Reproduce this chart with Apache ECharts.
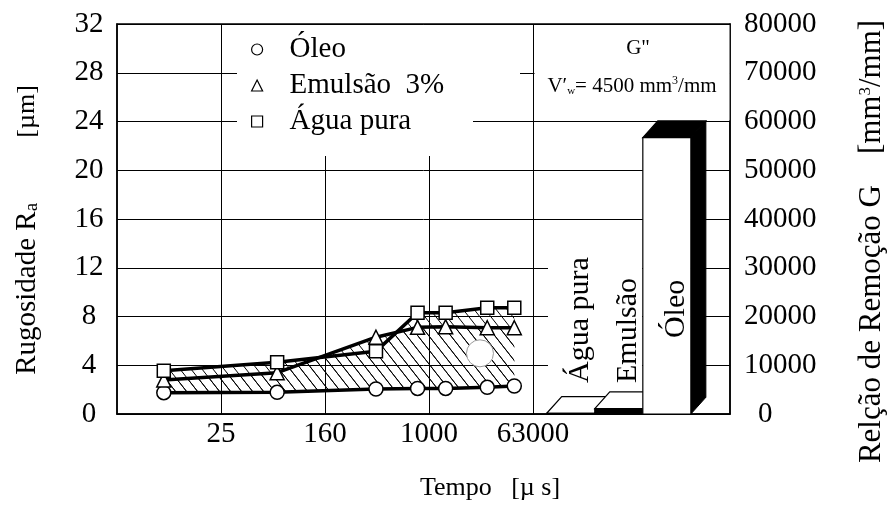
<!DOCTYPE html>
<html>
<head>
<meta charset="utf-8">
<script src="https://cdn.jsdelivr.net/npm/echarts@6/dist/echarts.min.js"></script>
<style>
html, body { margin: 0; padding: 0; background: #fff; }
#chart { width: 887px; height: 510px; }
</style>
</head>
<body>
<div id="chart"></div>
<script>
// eixo do tempo: cada divisão corresponde a uma marca (25, 160, 1000, 63000)
var tempoLabels = ['', '25', '160', '1000', '63000'];
var tempoPos = [0.45, 1.54, 2.49, 2.89, 3.16, 3.56, 3.82];

// rugosidade Ra [µm]
var oleo = [1.75, 1.78, 2.05, 2.1, 2.1, 2.19, 2.3];
var emulsao = [2.79, 3.39, 6.3, 7.11, 7.16, 7.08, 7.08];
var agua = [3.55, 4.24, 5.14, 8.31, 8.31, 8.72, 8.72];

// relação de remoção G [mm3/mm]
var barNames = ['Água pura', 'Emulsão', 'Óleo'];
var barG = [150, 1100, 56700];

// marca circular no meio da faixa hachurada
var marcaCirculo = [3.49, 4.98];

var serif = 'Liberation Serif';
var barStart = 4.132, barW = 0.462;

var chart = echarts.init(document.getElementById('chart'));

// hachura "\\\" da faixa entre as curvas
var pat = document.createElement('canvas');
pat.width = 11; pat.height = 14;
var pg = pat.getContext('2d');
pg.strokeStyle = '#000';
pg.lineWidth = 1;
pg.beginPath();
[-11, 0, 11].forEach(function (s) { pg.moveTo(s, 0); pg.lineTo(s + 11, 14); });
pg.stroke();
var hatchFill = { image: pat, repeat: 'repeat' };

function faixa(topo) {
  var out = [];
  for (var i = 0; i < tempoPos.length - 1; i++) {
    out.push([tempoPos[i], tempoPos[i + 1], oleo[i], oleo[i + 1], topo[i], topo[i + 1]]);
  }
  return out;
}

function hatchItem(params, api) {
  var a = api.coord([api.value(0), api.value(2)]);
  var b = api.coord([api.value(1), api.value(3)]);
  var c = api.coord([api.value(1), api.value(5)]);
  var d = api.coord([api.value(0), api.value(4)]);
  return { type: 'polygon', shape: { points: [a, b, c, d] }, style: { fill: hatchFill } };
}

function circleItem(params, api) {
  var p = api.coord([api.value(0), api.value(1)]);
  return { type: 'circle', shape: { cx: p[0], cy: p[1], r: 13.5 },
    style: { fill: 'white', stroke: '#999', lineWidth: 1 } };
}

var faces = [
  { front: '#fff', top: '#fff', inside: false },
  { front: '#000', top: '#fff', inside: false },
  { front: '#fff', top: '#000', inside: true }
];

function barItem(params, api) {
  var i = params.dataIndex;
  var base = api.coord([api.value(0), 0]);
  var top = api.coord([api.value(0), api.value(1)]);
  var w = api.size([barW, 0])[0];
  var x0 = base[0] - w / 2, x1 = base[0] + w / 2, y0 = base[1], y1 = top[1];
  var dx = 15, dy = -16.7;
  var f = faces[i];
  var ly = f.inside ? y1 + (y0 - y1) * 0.62 : y0 - 31;
  return {
    type: 'group',
    children: [
      { type: 'polygon', shape: { points: [[x1, y1], [x1 + dx, y1 + dy], [x1 + dx, y0 + dy], [x1, y0]] },
        style: { fill: '#000', stroke: '#000', lineWidth: 1 } },
      { type: 'polygon', shape: { points: [[x0, y1], [x1, y1], [x1 + dx, y1 + dy], [x0 + dx, y1 + dy]] },
        style: { fill: f.top, stroke: '#000', lineWidth: 1.2 } },
      { type: 'rect', shape: { x: x0, y: y1, width: w, height: y0 - y1 },
        style: { fill: f.front, stroke: '#000', lineWidth: 1.2 } },
      { type: 'text', x: base[0] + 9, y: ly, rotation: Math.PI / 2,
        style: { text: barNames[i], font: '30px "Liberation Serif"', fill: '#000',
          textAlign: f.inside ? 'center' : 'left', align: f.inside ? 'center' : 'left',
          textVerticalAlign: 'middle', verticalAlign: 'middle' } }
    ]
  };
}

var lineBase = {
  type: 'line',
  z: 5,
  lineStyle: { color: '#000', width: 3.5 },
  itemStyle: { color: '#fff', borderColor: '#000', borderWidth: 1.5 },
  emphasis: { disabled: true }
};

var option = {
  animation: false,
  textStyle: { fontFamily: serif, color: '#000' },
  grid: {
    left: 117, right: 157, top: 24, bottom: 96,
    containLabel: false, outerBoundsMode: 'none',
    show: true, borderColor: '#000', borderWidth: 1.5
  },
  legend: {
    orient: 'vertical',
    left: 246,
    top: 30,
    itemWidth: 11,
    itemHeight: 11,
    itemGap: 7,
    selectedMode: false,
    z: 10,
    itemStyle: { color: '#fff', borderColor: '#000', borderWidth: 1.2 },
    textStyle: { fontFamily: serif, fontSize: 29, color: '#000', padding: [0, 0, 0, 22] },
    data: [
      { name: 'Óleo', icon: 'circle' },
      { name: 'Emulsão  3%', icon: 'triangle' },
      { name: 'Água pura', icon: 'rect' }
    ]
  },
  xAxis: {
    type: 'value',
    min: 0,
    max: 613 / 104,
    interval: 1,
    axisLine: { lineStyle: { color: '#000', width: 1.5 } },
    axisTick: { show: false },
    splitLine: { show: false },
    axisLabel: {
      fontFamily: serif, fontSize: 29, color: '#000', margin: 6,
      formatter: function (v) { return tempoLabels[v] || ''; }
    },
    name: 'Tempo   [µ s]',
    nameLocation: 'middle',
    nameGap: 61,
    nameTextStyle: { fontFamily: serif, fontSize: 26, color: '#000', padding: [0, 0, 0, 133] }
  },
  yAxis: [{
    type: 'value',
    min: 0, max: 32, interval: 4,
    position: 'left',
    axisLine: { show: true, lineStyle: { color: '#000', width: 1.5 } },
    axisTick: { show: false },
    splitLine: { lineStyle: { color: '#000', width: 1 } },
    axisLabel: { fontFamily: serif, fontSize: 29, color: '#000', align: 'center', margin: 28 },
    name: '{n|Rugosidade R}{s|a}{n|         }{m|[µm]}',
    nameLocation: 'middle',
    nameRotate: 90,
    nameGap: 75,
    nameTextStyle: {
      padding: [0, 22, 0, 0],
      rich: {
        n: { fontFamily: serif, fontSize: 29, lineHeight: 30, color: '#000' },
        m: { fontFamily: serif, fontSize: 26, lineHeight: 30, color: '#000' },
        s: { fontFamily: serif, fontSize: 19, lineHeight: 6, verticalAlign: 'bottom', color: '#000' }
      }
    }
  }, {
    type: 'value',
    min: 0, max: 80000, interval: 10000,
    position: 'right',
    axisLine: { show: true, lineStyle: { color: '#000', width: 1.5 } },
    axisTick: { show: false },
    splitLine: { show: false },
    axisLabel: {
      fontFamily: serif, fontSize: 29, color: '#000', margin: 14,
      formatter: function (v) { return v === 0 ? '{z|0}' : String(v); },
      rich: { z: { fontFamily: serif, fontSize: 29, color: '#000', padding: [0, 0, 0, 14] } }
    },
    name: '{n|Relção de Remoção G    [mm}{u|3}{n|/mm]}',
    nameLocation: 'middle',
    nameRotate: 90,
    nameGap: 127,
    nameTextStyle: {
      padding: [0, 45, 0, 0],
      rich: {
        n: { fontFamily: serif, fontSize: 31, lineHeight: 30, color: '#000' },
        u: { fontFamily: serif, fontSize: 17, lineHeight: 16, verticalAlign: 'top', color: '#000' }
      }
    }
  }],
  graphic: [
    { type: 'rect', z: 2, silent: true, shape: { x: 237, y: 25, width: 283, height: 94 }, style: { fill: '#fff' } },
    { type: 'rect', z: 2, silent: true, shape: { x: 237, y: 119, width: 236, height: 37 }, style: { fill: '#fff' } },
    { type: 'rect', z: 2, silent: true, shape: { x: 534.5, y: 25, width: 195, height: 95.5 }, style: { fill: '#fff' } },
    { type: 'rect', z: 2, silent: true, shape: { x: 548, y: 245, width: 94, height: 148 }, style: { fill: '#fff' } },
    { type: 'text', z: 6, silent: true, x: 638, y: 48,
      style: { text: 'G"', font: '21px "Liberation Serif"', fill: '#000',
        textAlign: 'center', align: 'center', textVerticalAlign: 'middle', verticalAlign: 'middle' } },
    { type: 'text', z: 6, silent: true, x: 632, y: 86,
      style: {
        text: '{n|V′}{s|w}{n|= 4500 mm}{u|3}{n|/mm}',
        textAlign: 'center', align: 'center', textVerticalAlign: 'middle', verticalAlign: 'middle',
        rich: {
          n: { fontFamily: serif, fontSize: 21, lineHeight: 22, fill: '#000', color: '#000' },
          s: { fontFamily: serif, fontSize: 11, lineHeight: 8, verticalAlign: 'bottom', fill: '#000', color: '#000' },
          u: { fontFamily: serif, fontSize: 12, lineHeight: 12, verticalAlign: 'top', fill: '#000', color: '#000' }
        }
      } }
  ],
  series: [
    {
      type: 'custom', z: 3, silent: true,
      renderItem: hatchItem,
      encode: { x: [0, 1], y: [2, 3, 4, 5] },
      data: faixa(agua)
    },
    {
      type: 'custom', z: 3, silent: true,
      renderItem: hatchItem,
      encode: { x: [0, 1], y: [2, 3, 4, 5] },
      data: faixa(emulsao)
    },
    {
      type: 'custom', z: 4, silent: true,
      renderItem: circleItem,
      encode: { x: 0, y: 1 },
      data: [marcaCirculo]
    },
    Object.assign({}, lineBase, {
      name: 'Óleo',
      symbol: 'circle',
      symbolSize: 14,
      data: tempoPos.map(function (x, i) { return [x, oleo[i]]; }),
      markLine: {
        z: 1, silent: true,
        symbol: ['none', 'none'],
        label: { show: false },
        lineStyle: { color: '#000', width: 1, type: 'solid' },
        emphasis: { disabled: true },
        data: tempoLabels.slice(1).map(function (t, k) { return { xAxis: k + 1 }; })
      }
    }),
    Object.assign({}, lineBase, {
      name: 'Emulsão  3%',
      symbol: 'triangle',
      symbolSize: 14,
      data: tempoPos.map(function (x, i) { return [x, emulsao[i]]; })
    }),
    Object.assign({}, lineBase, {
      name: 'Água pura',
      symbol: 'rect',
      symbolSize: 13,
      data: tempoPos.map(function (x, i) { return [x, agua[i]]; })
    }),
    {
      type: 'custom', z: 5, silent: true,
      yAxisIndex: 1,
      renderItem: barItem,
      encode: { x: 0, y: 1 },
      data: barG.map(function (v, i) { return [barStart + (i + 0.5) * barW, v]; })
    }
  ]
};

chart.setOption(option);
</script>
</body>
</html>
